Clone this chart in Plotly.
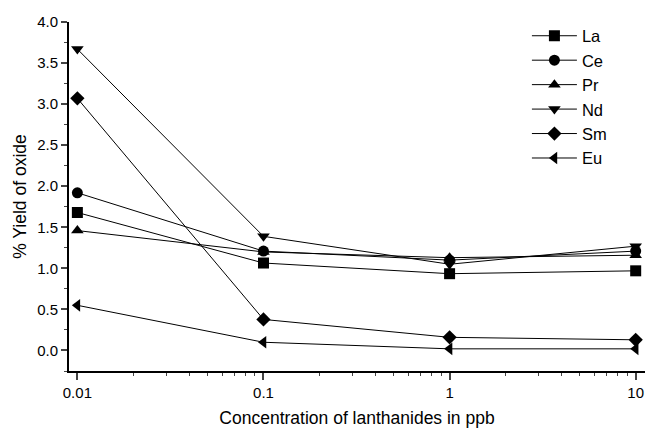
import plotly.graph_objects as go

conc = [0.01, 0.1, 1, 10]
series_names = ["La", "Ce", "Pr", "Nd", "Sm", "Eu"]
la = [1.68, 1.065, 0.935, 0.97]
ce = [1.92, 1.21, 1.10, 1.21]
pr = [1.46, 1.20, 1.13, 1.16]
nd = [3.67, 1.39, 1.05, 1.27]
sm = [3.07, 0.378, 0.16, 0.13]
eu = [0.55, 0.10, 0.02, 0.02]
values = [la, ce, pr, nd, sm, eu]
symbols = ["square", "circle", "triangle-up", "triangle-down", "diamond", "triangle-left"]

y_ticks = [0.0, 0.5, 1.0, 1.5, 2.0, 2.5, 3.0, 3.5, 4.0]
x_ticks = [0.01, 0.1, 1, 10]
x_ticklabels = ["0.01", "0.1", "1", "10"]

fig = go.Figure()
for name, vals, sym in zip(series_names, values, symbols):
    fig.add_trace(go.Scatter(
        x=conc, y=vals, name=name, mode="lines+markers",
        line=dict(color="black", width=1),
        marker=dict(symbol=sym, size=11, color="black"),
    ))

font = "Liberation Sans, Arial, sans-serif"
fig.update_layout(
    width=647, height=428,
    margin=dict(l=69, r=2, t=22, b=57),
    paper_bgcolor="white", plot_bgcolor="white",
    font=dict(family=font, size=15, color="black"),
    showlegend=True,
    legend=dict(x=0.795, y=1.01, xanchor="left", yanchor="top",
                bgcolor="rgba(0,0,0,0)", font=dict(size=16.5),
                tracegroupgap=0, itemwidth=45),
    xaxis=dict(
        type="log", range=[-2.045, 1.05],
        tickvals=x_ticks, ticktext=x_ticklabels,
        ticks="outside", ticklen=7, tickwidth=1.5,
        minor=dict(ticks="outside", ticklen=3, tickwidth=1, dtick="D1"),
        showline=True, linecolor="black", linewidth=2,
        showgrid=False, zeroline=False,
        title=dict(text="Concentration of lanthanides in ppb", font=dict(size=17.5), standoff=12),
        tickfont=dict(size=15),
    ),
    yaxis=dict(
        range=[-0.25, 4.0],
        tickvals=y_ticks, ticktext=[f"{v:.1f}" for v in y_ticks],
        ticks="outside", ticklen=6, tickwidth=1.5,
        minor=dict(ticks="outside", ticklen=3, tickwidth=1, dtick=0.25),
        showline=True, linecolor="black", linewidth=2,
        showgrid=False, zeroline=False,
        title=dict(text="% Yield of oxide", font=dict(size=17.5), standoff=6),
        tickfont=dict(size=15),
    ),
)

fig.write_html("out.html")
